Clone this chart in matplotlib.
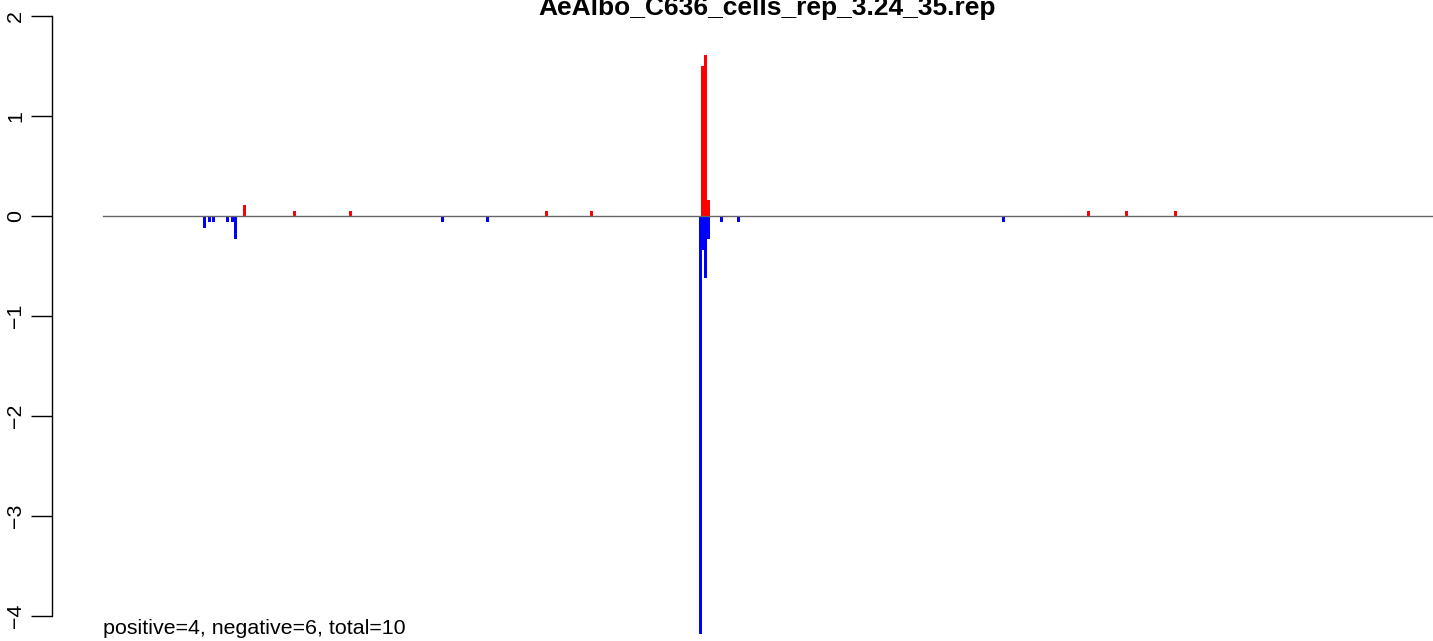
import matplotlib
matplotlib.use('Agg')
import matplotlib.pyplot as plt

plt.rcParams['font.family'] = ['Liberation Sans', 'DejaVu Sans']

title = 'AeAlbo_C636_cells_rep_3.24_35.rep'
summary = 'positive=4, negative=6, total=10'

# positions along the reference and normalised read values
pos_x = [46.7, 63.3, 82.0, 147.3, 162.3, 199.3, 200.3, 201.3, 328.0, 340.7, 357.0]
pos_y = [0.11, 0.05, 0.05, 0.05, 0.05, 1.50, 1.61, 0.16, 0.05, 0.05, 0.05]

neg_x = [33.3, 35.0, 36.3, 41.0, 42.7, 43.7, 112.7, 127.7,
         198.7, 199.7, 200.3, 201.3, 205.7, 211.3, 299.7]
neg_y = [-0.12, -0.06, -0.06, -0.06, -0.06, -0.23, -0.06, -0.06,
         -4.18, -0.34, -0.62, -0.23, -0.06, -0.06, -0.06]

yticks = [2, 1, 0, -1, -2, -3, -4]

fig = plt.figure(figsize=(14.33, 6.41), dpi=100)
ax = fig.add_axes([52 / 1433, 0, 1 - 52 / 1433, 1])

ax.bar(pos_x, pos_y, width=0.95, align='edge', color='#FF0000', linewidth=0)
ax.bar(neg_x, neg_y, width=0.95, align='edge', color='#0000FF', linewidth=0)
ax.plot([0, 500], [0, 0], color='#666666', lw=1.0, zorder=3)

ax.set_xlim(-17, 443.3)
ax.set_ylim(-4.25, 2.16)

for s in ['top', 'right', 'bottom']:
    ax.spines[s].set_visible(False)
ax.spines['left'].set_bounds(-4, 2)
ax.spines['left'].set_linewidth(1.0)
ax.set_xticks([])
ax.set_yticks(yticks)
ax.set_yticklabels([str(t).replace('-', '\u2212') for t in yticks],
                   rotation=90, va='center', fontsize=15.4)
ax.tick_params(axis='y', length=15, width=1.0, pad=4.5)

ax.text(0, -4.18, summary, fontsize=15.4, va='baseline', ha='left')
fig.text(767.5 / 1433, 1 - 15 / 641, title, fontsize=19, fontweight='bold',
         ha='center', va='baseline')

fig.savefig('out.png', dpi=100)
